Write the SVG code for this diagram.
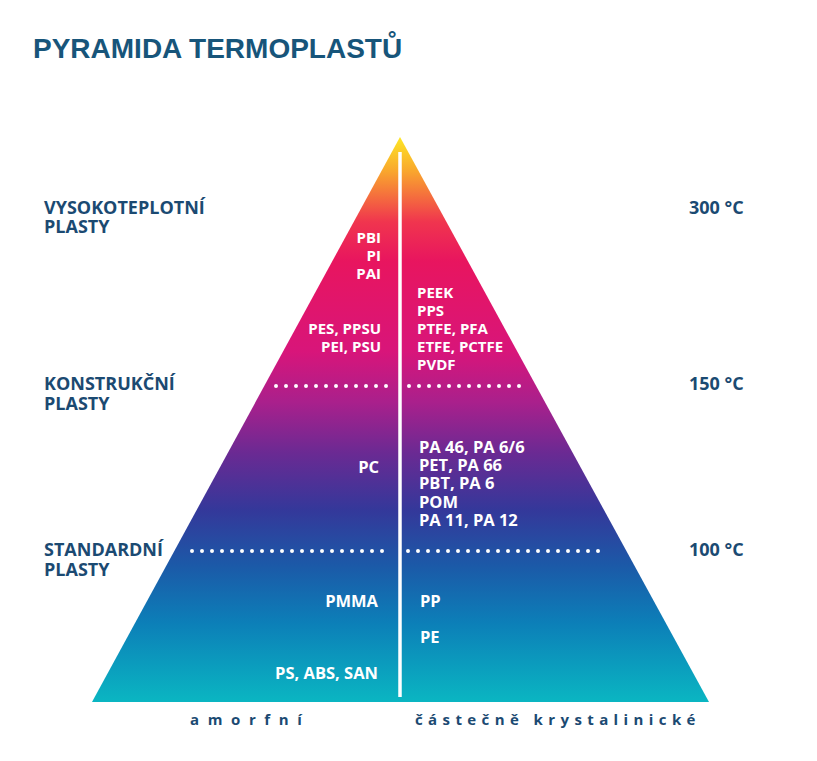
<svg xmlns="http://www.w3.org/2000/svg" width="817" height="761" viewBox="0 0 817 761">
<defs>
<linearGradient id="pg" x1="0" y1="137" x2="0" y2="702" gradientUnits="userSpaceOnUse">
<stop offset="0" stop-color="#fde725"/>
<stop offset="0.06" stop-color="#f9a72d"/>
<stop offset="0.15" stop-color="#f0354e"/>
<stop offset="0.22" stop-color="#e8155f"/>
<stop offset="0.38" stop-color="#d8157a"/>
<stop offset="0.47" stop-color="#a9208c"/>
<stop offset="0.56" stop-color="#6a2a93"/>
<stop offset="0.66" stop-color="#34389a"/>
<stop offset="0.76" stop-color="#1b5aa8"/>
<stop offset="0.86" stop-color="#0c7fb8"/>
<stop offset="1" stop-color="#0ab6c2"/>
</linearGradient>
</defs>
<style>
.title{font-family:"Liberation Sans",Arial,sans-serif;font-weight:bold;font-size:28px;fill:#17557a}
.side{font-family:"Open Sans","DejaVu Sans",sans-serif;font-weight:bold;font-size:18px;fill:#1b4a72}
.in{font-family:"Open Sans","DejaVu Sans",sans-serif;font-weight:bold;font-size:15px;fill:#ffffff}
.in2{font-family:"Open Sans","DejaVu Sans",sans-serif;font-weight:bold;font-size:16.5px;fill:#ffffff}
.l{text-anchor:end}
.bot{font-family:"Open Sans","DejaVu Sans",sans-serif;font-weight:bold;font-size:15px;fill:#1b4a72}
.dots{stroke:#ffffff;stroke-width:4;stroke-linecap:round;stroke-dasharray:0 10;fill:none}
</style>
<rect width="817" height="761" fill="#ffffff"/>
<text class="title" x="33" y="58">PYRAMIDA TERMOPLASTŮ</text>
<g id="pyramid">
<polygon points="400,137 709,702 92,702" fill="url(#pg)"/>
<line x1="400" y1="152" x2="400" y2="697" stroke="#ffffff" stroke-width="3.5"/>
</g>
<g id="connectors">
<line class="dots" x1="276" y1="386" x2="391" y2="386"/>
<line class="dots" x1="409" y1="386" x2="525" y2="386"/>
<line class="dots" x1="192" y1="551" x2="392" y2="551"/>
<line class="dots" x1="408" y1="551" x2="608" y2="551"/>
</g>
<g id="labels-left">
<text class="side"><tspan x="44" y="214">VYSOKOTEPLOTNÍ</tspan><tspan x="44" y="233">PLASTY</tspan></text>
<text class="side"><tspan x="44" y="390">KONSTRUKČNÍ</tspan><tspan x="44" y="410">PLASTY</tspan></text>
<text class="side"><tspan x="44" y="556">STANDARDNÍ</tspan><tspan x="44" y="576">PLASTY</tspan></text>
</g>
<g id="labels-right">
<text class="side" x="689" y="214">300 °C</text>
<text class="side" x="689" y="390">150 °C</text>
<text class="side" x="689" y="556">100 °C</text>
</g>
<g id="amorphous">
<text class="in l"><tspan x="381" y="243">PBI</tspan><tspan x="381" y="261">PI</tspan><tspan x="381" y="279">PAI</tspan></text>
<text class="in l"><tspan x="381" y="334">PES, PPSU</tspan><tspan x="381" y="352">PEI, PSU</tspan></text>
<text class="in2 l" x="379" y="473">PC</text>
<text class="in2 l" x="378" y="607">PMMA</text>
<text class="in2 l" x="378" y="679">PS, ABS, SAN</text>
</g>
<g id="crystalline">
<text class="in"><tspan x="417" y="298">PEEK</tspan><tspan x="417" y="316">PPS</tspan><tspan x="417" y="334">PTFE, PFA</tspan><tspan x="417" y="352">ETFE, PCTFE</tspan><tspan x="417" y="370">PVDF</tspan></text>
<text class="in2"><tspan x="419" y="453">PA 46, PA 6/6</tspan><tspan x="419" y="471">PET, PA 66</tspan><tspan x="419" y="489">PBT, PA 6</tspan><tspan x="419" y="508">POM</tspan><tspan x="419" y="526">PA 11, PA 12</tspan></text>
<text class="in2" x="420" y="607">PP</text>
<text class="in2" x="420" y="643">PE</text>
</g>
<g id="footer">
<text class="bot" x="190" y="725" letter-spacing="8.6">amorfní</text>
<text class="bot" x="415" y="725" letter-spacing="5.4">částečně krystalinické</text>
</g>
</svg>
